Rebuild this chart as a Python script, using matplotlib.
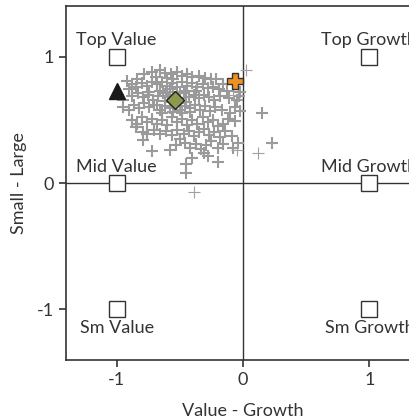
import matplotlib
matplotlib.use("Agg")
import matplotlib.pyplot as plt

# Style box anchors
box_x = [-1, 1, -1, 1, -1, 1]
box_y = [1, 1, 0, 0, -1, -1]
box_labels = ["Top Value", "Top Growth", "Mid Value", "Mid Growth", "Sm Value", "Sm Growth"]

# Gray holdings-based points (x = value-growth, y = small-large)
pts_x = [-0.78,-0.72,-0.66,-0.62,-0.57,-0.52,-0.48,-0.44,-0.40,-0.35,-0.30,-0.25,-0.21,-0.16,-0.69,-0.60,-0.55,-0.84,-0.92,-0.88,
         -0.90,-0.85,-0.80,-0.76,-0.72,-0.68,-0.64,-0.60,-0.56,-0.52,-0.48,-0.44,-0.40,-0.36,-0.32,-0.28,-0.24,-0.19,-0.13,-0.58,-0.66,-0.74,
         -0.95,-0.88,-0.83,-0.79,-0.75,-0.71,-0.67,-0.63,-0.59,-0.55,-0.51,-0.47,-0.43,-0.39,-0.35,-0.31,-0.27,-0.23,-0.18,-0.11,-0.03,-0.02,-0.05,-0.45,-0.37,
         -0.95,-0.90,-0.86,-0.82,-0.78,-0.74,-0.70,-0.66,-0.62,-0.58,-0.54,-0.50,-0.46,-0.42,-0.38,-0.34,-0.30,-0.26,-0.22,-0.17,-0.10,-0.06,-0.02,0.15,-0.64,-0.48,
         -0.88,-0.84,-0.80,-0.76,-0.72,-0.68,-0.64,-0.60,-0.56,-0.52,-0.48,-0.44,-0.40,-0.36,-0.32,-0.28,-0.24,-0.20,-0.16,-0.12,-0.06,-0.85,
         -0.79,-0.76,-0.70,-0.66,-0.61,-0.56,-0.52,-0.47,-0.43,-0.39,-0.35,-0.31,-0.27,-0.23,-0.18,-0.14,-0.09,-0.79,-0.50,
         -0.72,-0.58,-0.53,-0.46,-0.42,-0.37,-0.33,-0.29,-0.25,-0.20,-0.16,-0.08,-0.04,0.23,-0.31,
         -0.45,-0.45,-0.20,-0.40,-0.28,
         -0.62,-0.57,-0.53,-0.49,-0.61,-0.50,-0.45,-0.68,-0.55,-0.42]
pts_y = [0.86,0.88,0.89,0.87,0.86,0.88,0.85,0.86,0.84,0.85,0.83,0.82,0.82,0.78,0.84,0.83,0.82,0.82,0.81,0.78,
         0.74,0.76,0.79,0.77,0.80,0.78,0.80,0.77,0.79,0.76,0.80,0.77,0.79,0.76,0.78,0.75,0.76,0.74,0.73,0.74,0.73,0.72,
         0.66,0.69,0.71,0.68,0.70,0.66,0.69,0.71,0.68,0.70,0.67,0.71,0.68,0.70,0.67,0.70,0.68,0.66,0.69,0.67,0.69,0.72,0.66,0.73,0.73,
         0.60,0.58,0.62,0.59,0.63,0.60,0.62,0.58,0.61,0.59,0.62,0.58,0.61,0.59,0.62,0.58,0.61,0.57,0.60,0.58,0.55,0.60,0.57,0.55,0.55,0.55,
         0.50,0.47,0.52,0.48,0.51,0.47,0.50,0.46,0.52,0.48,0.51,0.46,0.50,0.47,0.52,0.48,0.50,0.45,0.47,0.51,0.49,0.44,
         0.40,0.39,0.42,0.39,0.41,0.38,0.42,0.39,0.41,0.37,0.40,0.43,0.38,0.40,0.36,0.41,0.37,0.34,0.35,
         0.25,0.26,0.30,0.32,0.28,0.31,0.27,0.30,0.33,0.28,0.31,0.28,0.32,0.32,0.24,
         0.15,0.08,0.17,0.20,0.21,
         0.65,0.64,0.66,0.63,0.72,0.72,0.64,0.62,0.56,0.56]

# Thin gray points
thin_x = [0.02, 0.12, -0.39, -0.05, -0.08]
thin_y = [0.89, 0.24, -0.07, 0.26, 0.70]

# Highlighted points
tri_x, tri_y = [-1.00], [0.73]
dia_x, dia_y = [-0.54], [0.66]
org_x, org_y = [-0.06], [0.81]

xticks = [-1, 0, 1]
yticks = [-1, 0, 1]

TXT = "#333333"
plt.rcParams['font.family'] = ["Lato", "DejaVu Sans"]
FS = 13

fig = plt.figure(figsize=(4.10, 4.20), dpi=100)
ax = fig.add_axes([66/410, 60/420, 354/410, 354/420])
ax.set_xlim(-1.4, 1.4)
ax.set_ylim(-1.4, 1.4)

ax.axhline(0, color="#333333", lw=1.0, zorder=1)
ax.axvline(0, color="#333333", lw=1.0, zorder=1)

ax.plot(pts_x, pts_y, linestyle="none", marker="+", ms=8.5, mew=1.5, color="#9a9a9a", zorder=2)
ax.plot(thin_x, thin_y, linestyle="none", marker="+", ms=9, mew=0.8, color="#a0a0a0", zorder=2)

ax.plot(box_x, box_y, linestyle="none", marker="s", ms=11.5, mfc="white", mec="#333333", mew=1.0, zorder=3)
for bx, by, lab in zip(box_x, box_y, box_labels):
    if by >= 0:
        ax.text(bx, by + 0.13, lab, ha="center", va="center", fontsize=FS, color=TXT)
    else:
        ax.text(bx, by - 0.15, lab, ha="center", va="center", fontsize=FS, color=TXT)

ax.plot(tri_x, tri_y, linestyle="none", marker="^", ms=12, color="#1a1a1a", mec="#1a1a1a", zorder=4)
ax.plot(dia_x, dia_y, linestyle="none", marker="D", ms=9, mfc="#8c9a4e", mec="#222222", mew=1.0, zorder=4)
ax.plot(org_x, org_y, linestyle="none", marker="P", ms=12, mfc="#f0901e", mec="#333333", mew=1.0, zorder=4)

ax.set_xticks(xticks)
ax.set_yticks(yticks)
ax.set_xticklabels([str(t) for t in xticks])
ax.set_yticklabels([str(t) for t in yticks])
ax.tick_params(direction="out", length=5, width=1.2, colors="#333333", labelsize=FS, labelcolor=TXT)
for s in ax.spines.values():
    s.set_color("#333333")
    s.set_linewidth(1.2)

ax.set_xlabel("Value - Growth", fontsize=FS, color=TXT, labelpad=11)
ax.set_ylabel("Small - Large", fontsize=FS, color=TXT, labelpad=7)

fig.savefig("out.png", dpi=100)
